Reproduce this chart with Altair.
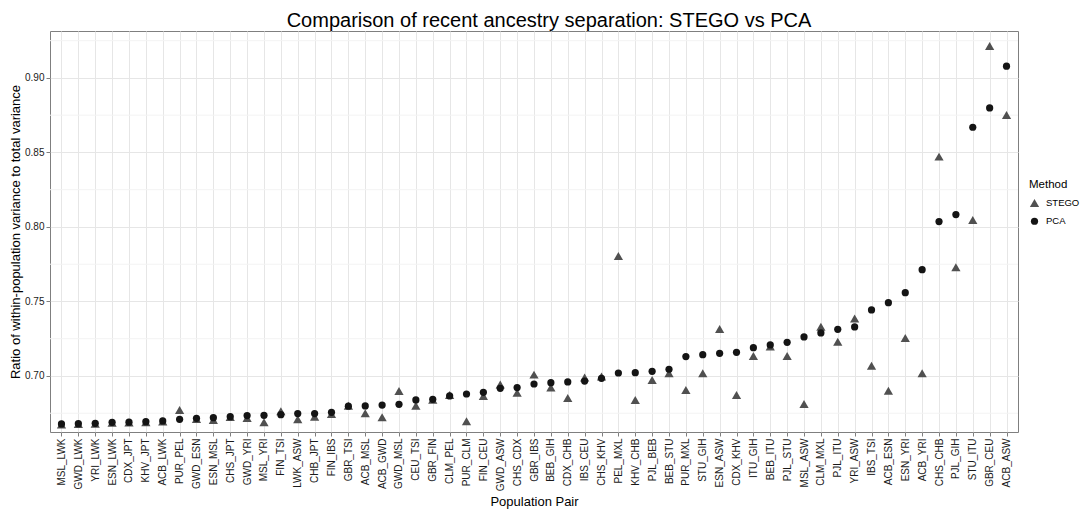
import altair as alt
import pandas as pd

pairs = ["MSL_LWK", "GWD_LWK", "YRI_LWK", "ESN_LWK", "CDX_JPT", "KHV_JPT", "ACB_LWK", "PUR_PEL",
         "GWD_ESN", "ESN_MSL", "CHS_JPT", "GWD_YRI", "MSL_YRI", "FIN_TSI", "LWK_ASW", "CHB_JPT",
         "FIN_IBS", "GBR_TSI", "ACB_MSL", "ACB_GWD", "GWD_MSL", "CEU_TSI", "GBR_FIN", "CLM_PEL",
         "PUR_CLM", "FIN_CEU", "GWD_ASW", "CHS_CDX", "GBR_IBS", "BEB_GIH", "CDX_CHB", "IBS_CEU",
         "CHS_KHV", "PEL_MXL", "KHV_CHB", "PJL_BEB", "BEB_STU", "PUR_MXL", "STU_GIH", "ESN_ASW",
         "CDX_KHV", "ITU_GIH", "BEB_ITU", "PJL_STU", "MSL_ASW", "CLM_MXL", "PJL_ITU", "YRI_ASW",
         "IBS_TSI", "ACB_ESN", "ESN_YRI", "ACB_YRI", "CHS_CHB", "PJL_GIH", "STU_ITU", "GBR_CEU",
         "ACB_ASW"]

pca = [0.6678, 0.6680, 0.6682, 0.6689, 0.6690, 0.6693, 0.6698, 0.6709,
       0.6716, 0.6720, 0.6727, 0.6734, 0.6736, 0.6740, 0.6748, 0.6748,
       0.6756, 0.6797, 0.6799, 0.6805, 0.6810, 0.6839, 0.6843, 0.6866,
       0.6879, 0.6890, 0.6917, 0.6922, 0.6946, 0.6955, 0.6960, 0.6966,
       0.6984, 0.7020, 0.7022, 0.7031, 0.7045, 0.7130, 0.7143, 0.7152,
       0.7159, 0.7190, 0.7208, 0.7226, 0.7262, 0.7289, 0.7313, 0.7329,
       0.7443, 0.7492, 0.7559, 0.7713, 0.8036, 0.8083, 0.8669, 0.8799,
       0.9079]

stego = [0.6675, 0.6678, 0.6680, 0.6686, 0.6688, 0.6690, 0.6695, 0.6772,
         0.6712, 0.6705, 0.6725, 0.6718, 0.6690, 0.6763, 0.6710, 0.6727,
         0.6745, 0.6800, 0.6750, 0.6723, 0.6899, 0.6800, 0.6840, 0.6872,
         0.6696, 0.6866, 0.6942, 0.6888, 0.7009, 0.6922, 0.6852, 0.6989,
         0.6996, 0.7805, 0.6839, 0.6973, 0.7018, 0.6906, 0.7018, 0.7315,
         0.6872, 0.7134, 0.7197, 0.7134, 0.6812, 0.7331, 0.7230, 0.7385,
         0.7069, 0.6901, 0.7255, 0.7018, 0.8472, 0.7730, 0.8047, 0.9215,
         0.8752]

methods = ["STEGO", "PCA"]
major_ticks = [0.70, 0.75, 0.80, 0.85, 0.90]
minor_ticks = [0.675, 0.725, 0.775, 0.825, 0.875, 0.925]

rows = []
for p, s in zip(pairs, stego):
    rows.append({"pair": p, "method": "STEGO", "value": s})
for p, v in zip(pairs, pca):
    rows.append({"pair": p, "method": "PCA", "value": v})
df = pd.DataFrame(rows)
minor_df = pd.DataFrame({"y": minor_ticks})

font = "Liberation Sans"
yscale = alt.Scale(domain=[0.6624, 0.9315], nice=False, zero=False)

legend_kw = dict(title="Method", orient="none", legendX=979, legendY=148,
                 titleFontSize=11.5, labelFontSize=9.5, symbolSize=60,
                 titleFontWeight="normal", titleColor="#000", labelColor="#000",
                 rowPadding=8, labelOffset=6, titlePadding=7)

minor = alt.Chart(minor_df).mark_rule(color="#f3f3f3", strokeWidth=1).encode(
    y=alt.Y("y:Q", scale=yscale)
)

points = alt.Chart(df).mark_point(filled=True, opacity=1, strokeWidth=0).encode(
    x=alt.X("pair:N", sort=pairs, scale=alt.Scale(type="point", padding=0.68),
            axis=alt.Axis(title="Population Pair", labelAngle=-90, grid=True,
                          gridColor="#e6e6e6", labelFontSize=10, titleFontSize=13,
                          titleFontWeight="normal",
                          labelColor="#1a1a1a", titleColor="#000", tickColor="#7f7f7f",
                          tickSize=4, labelPadding=2, titlePadding=5, domain=False)),
    y=alt.Y("value:Q", scale=yscale,
            axis=alt.Axis(title="Ratio of within-population variance to total variance",
                          values=major_ticks, format=".2f", grid=True, gridColor="#e6e6e6",
                          labelFontSize=10, titleFontSize=13, titleFontWeight="normal",
                          labelColor="#1a1a1a",
                          titleColor="#000", tickColor="#7f7f7f", tickSize=4,
                          labelPadding=2, titlePadding=2, domain=False)),
    shape=alt.Shape("method:N", sort=methods,
                    scale=alt.Scale(domain=methods, range=["triangle-up", "circle"]),
                    legend=alt.Legend(**legend_kw)),
    color=alt.Color("method:N", sort=methods,
                    scale=alt.Scale(domain=methods, range=["#505050", "#141414"]),
                    legend=alt.Legend(**legend_kw)),
    size=alt.Size("method:N", sort=methods,
                  scale=alt.Scale(domain=methods, range=[85, 52]), legend=None),
    order=alt.Order("order_key:Q"),
).transform_calculate(order_key="datum.method == 'STEGO' ? 0 : 1")

chart = alt.layer(minor, points).properties(
    width=968,
    height=401,
    autosize="none",
    padding={"left": 42, "top": 23, "right": 64, "bottom": 90},
    title=alt.TitleParams("Comparison of recent ancestry separation: STEGO vs PCA",
                          fontSize=20, font=font, fontWeight="normal", color="#000",
                          anchor="middle", dx=15, offset=0),
).configure(font=font).configure_view(stroke="#7f7f7f", strokeWidth=1)

chart.save("out.html", embed_options={"renderer": "svg", "actions": False})
